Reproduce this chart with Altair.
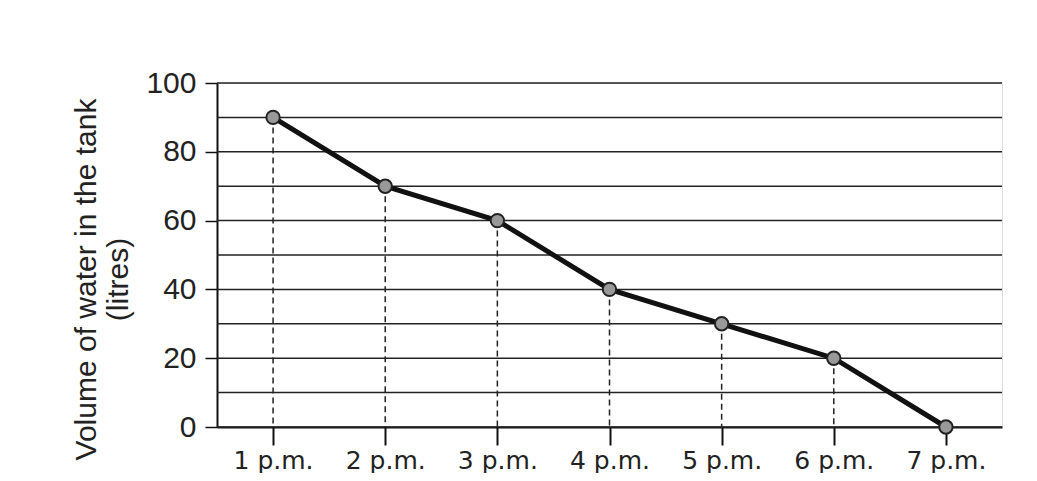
import altair as alt
import pandas as pd

times = ["1 p.m.", "2 p.m.", "3 p.m.", "4 p.m.", "5 p.m.", "6 p.m.", "7 p.m."]
volumes = [90, 70, 60, 40, 30, 20, 0]

df = pd.DataFrame({"time": times, "volume": volumes})
df["zero"] = 0

FONT = "Liberation Sans"

x_enc = alt.X("time:N", sort=times, title=None,
              scale=alt.Scale(type="point", padding=0.5))
y_scale = alt.Scale(domain=[0, 100], nice=False)
y_title = ["Volume of water in the tank", "(litres)"]

base = alt.Chart(df)

grid = alt.Chart(pd.DataFrame({"g": list(range(0, 101, 10))})).mark_rule(
    color="#222", strokeWidth=1.5
).encode(y=alt.Y("g:Q", scale=y_scale, title=y_title))

drops = base.mark_rule(color="#222", strokeWidth=1.5, strokeDash=[6, 4]).encode(
    x=x_enc,
    y=alt.Y("volume:Q", scale=y_scale, title=y_title),
    y2="zero:Q",
)

line = base.mark_line(color="#111", strokeWidth=5).encode(
    x=x_enc,
    y=alt.Y("volume:Q", scale=y_scale, title=y_title,
            axis=alt.Axis(values=[0, 20, 40, 60, 80, 100])),
)

points = base.mark_point(shape="circle", size=180, filled=True, color="#999",
                         stroke="#222", strokeWidth=2, opacity=1).encode(
    x=x_enc,
    y=alt.Y("volume:Q", scale=y_scale, title=y_title),
)

chart = alt.layer(grid, drops, line, points).properties(
    width=785, height=344,
    autosize=alt.AutoSizeParams(type="none"),
    padding={"left": 209, "top": 75, "right": 20, "bottom": 46},
).configure_view(stroke="#666", strokeWidth=1.5).configure(background="white"
).configure_axisX(
    labelAngle=0, labelFontSize=25, labelFont="DejaVu Sans", labelColor="#222",
    tickSize=18, tickColor="#111", tickWidth=2, domainColor="#111",
    domainWidth=2, labelPadding=3, grid=False,
).configure_axisY(
    labelFontSize=30, labelFont=FONT, labelColor="#222", tickSize=12,
    tickColor="#111", tickWidth=1.5, domainColor="#111", domainWidth=2,
    labelPadding=9, titleFontSize=30, titleFont=FONT, titleFontWeight="normal",
    titleColor="#222", titlePadding=12, grid=False, titleLineHeight=32,
    titleY=196,
)

chart.save("out.html", embed_options={"renderer": "svg", "actions": False})
